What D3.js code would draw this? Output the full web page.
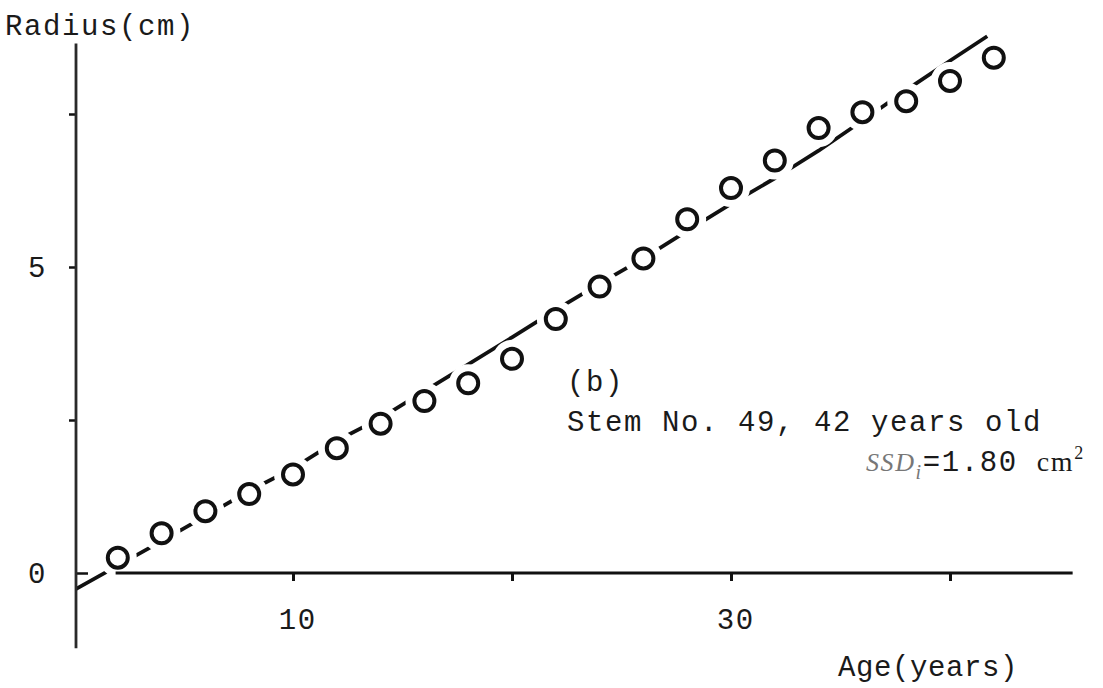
<!DOCTYPE html>
<html>
<head>
<meta charset="utf-8">
<script src="https://cdn.jsdelivr.net/npm/d3@7"></script>
<style>
  html, body { margin: 0; padding: 0; background: #fff; }
  svg { display: block; }
  text { font-family: "Liberation Mono", "DejaVu Sans Mono", monospace; fill: #1a1a1a; letter-spacing: 1.6px; }
</style>
</head>
<body>
<svg id="chart" width="1103" height="688"></svg>
<script>
// Observed stem radius at each age (open circles)
const ages = [2, 4, 6, 8, 10, 12, 14, 16, 18, 20, 22, 24, 26, 28, 30, 32, 34, 36, 38, 40, 42];
const radii = [0.25, 0.65, 1.01, 1.29, 1.61, 2.04, 2.44, 2.81, 3.10, 3.50, 4.15, 4.68, 5.14, 5.78, 6.29, 6.74, 7.27, 7.53, 7.71, 8.04, 8.42];

// Fitted growth curve
const fitAges = [0.1, 2, 4, 6, 8, 10, 12, 14, 16, 18, 20, 22, 24, 26, 28, 30, 32, 34, 36, 38, 40, 41.7];
const fitRadii = [-0.26, 0.12, 0.52, 0.93, 1.34, 1.71, 2.16, 2.53, 2.97, 3.41, 3.85, 4.30, 4.73, 5.14, 5.59, 6.03, 6.45, 6.90, 7.39, 7.89, 8.37, 8.77];

const xTicks = [10, 20, 30, 40];
const xTickLabels = ["10", "", "30", ""];
const yTicks = [0, 2.5, 5, 7.5];
const yTickLabels = ["0", "", "5", ""];

const svg = d3.select("#chart");

const x = d3.scaleLinear().domain([0, 10]).range([74, 293]);
const y = d3.scaleLinear().domain([0, 5]).range([573, 267]);

const ink = "#111";
const fontSize = 29;

// fitted line
const line = d3.line().x(d => x(d[0])).y(d => y(d[1]));
svg.append("path")
  .datum(fitAges.map((a, i) => [a, fitRadii[i]]))
  .attr("d", line)
  .attr("fill", "none")
  .attr("stroke", ink)
  .attr("stroke-width", 3.8)
  .attr("stroke-linejoin", "round");

// observed points: white clearance behind each open circle
const pts = ages.map((a, i) => [a, radii[i]]);
svg.append("g").selectAll("circle").data(pts).join("circle")
  .attr("cx", d => x(d[0])).attr("cy", d => y(d[1]))
  .attr("r", 12)
  .attr("fill", "#fff")
  .attr("stroke", "#fff")
  .attr("stroke-width", 14);
svg.append("g").selectAll("circle").data(pts).join("circle")
  .attr("cx", d => x(d[0])).attr("cy", d => y(d[1]))
  .attr("r", 10)
  .attr("fill", "#fff")
  .attr("stroke", ink)
  .attr("stroke-width", 4);

// x axis
const xAxis = d3.axisBottom(x)
  .tickValues(xTicks)
  .tickFormat((d, i) => xTickLabels[i])
  .tickSizeInner(8)
  .tickSizeOuter(0)
  .tickPadding(27);
const gx = svg.append("g").attr("transform", `translate(0,${y(0)})`).call(xAxis);
gx.select(".domain").remove();
gx.selectAll(".tick line").attr("stroke", ink).attr("stroke-width", 3);
gx.selectAll(".tick text").attr("font-size", fontSize).attr("font-family", "Liberation Mono").attr("fill", "#1a1a1a").attr("dx", "0.15em");
svg.append("line")
  .attr("x1", x(1.9)).attr("x2", x(45.6))
  .attr("y1", y(0)).attr("y2", y(0))
  .attr("stroke", ink).attr("stroke-width", 3.2);

// y axis
const yAxis = d3.axisLeft(y)
  .tickValues(yTicks)
  .tickFormat((d, i) => yTickLabels[i])
  .tickSizeInner(7)
  .tickSizeOuter(0)
  .tickPadding(22);
const gy = svg.append("g").attr("transform", `translate(${x(0) + 2},0)`).call(yAxis);
gy.select(".domain").remove();
gy.selectAll(".tick line").attr("stroke", ink).attr("stroke-width", 2.5);
gy.selectAll(".tick").filter(d => d === 0).select("line").attr("x2", 12);
gy.selectAll(".tick text").attr("font-size", fontSize).attr("font-family", "Liberation Mono").attr("fill", "#1a1a1a");
svg.append("line")
  .attr("x1", x(0) + 2).attr("x2", x(0) + 2)
  .attr("y1", y(8.65)).attr("y2", y(-1.23))
  .attr("stroke", "#2a2a2a").attr("stroke-width", 2.8);

// axis titles
svg.append("text").attr("x", 5).attr("y", 35).attr("font-size", fontSize).text("Radius(cm)");
svg.append("text").attr("x", 838).attr("y", 676).attr("font-size", fontSize).style("letter-spacing", "0.6px").text("Age(years)");

// annotation
svg.append("text").attr("x", 567).attr("y", 391).attr("font-size", fontSize).text("(b)");
svg.append("text").attr("x", 567).attr("y", 431).attr("font-size", fontSize).text("Stem No. 49, 42 years old");
const ssd = svg.append("text").attr("x", 866).attr("y", 471).attr("font-size", fontSize);
ssd.append("tspan").attr("font-family", "Liberation Serif").attr("font-style", "italic").attr("font-size", 26).attr("fill", "#777").text("SSD");
ssd.append("tspan").attr("font-family", "Liberation Serif").attr("font-style", "italic").attr("font-size", 20).attr("fill", "#777").attr("dy", 8).text("i");
ssd.append("tspan").attr("dy", -8).text("=1.80 ");
ssd.append("tspan").attr("font-family", "Liberation Serif").attr("font-size", 28).text("cm");
ssd.append("tspan").attr("font-family", "Liberation Serif").attr("font-size", 18).attr("dy", -12).text("2");
</script>
</body>
</html>
